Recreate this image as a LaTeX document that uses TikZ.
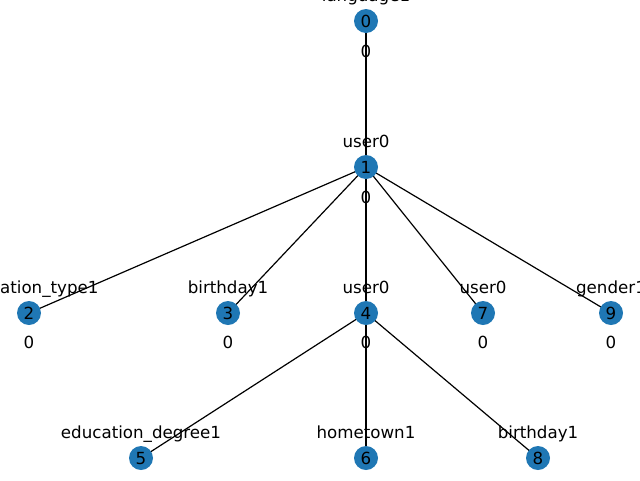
\documentclass[tikz,border=0pt]{standalone}
\usepackage{fontspec}
\setmainfont{DejaVu Sans}
\usetikzlibrary{backgrounds}
\definecolor{nodeblue}{HTML}{1F77B4}
\begin{document}
\begin{tikzpicture}[x=1pt,y=-1pt,
  vertex/.style={circle,fill=nodeblue,draw=none,minimum size=24pt,inner sep=0pt,
    font=\fontsize{16.67}{20}\selectfont,text depth=0pt},
  tag/.style={anchor=base,inner sep=0pt,font=\fontsize{16.67}{20}\selectfont},
  edge/.style={draw=black,line width=1.2pt}]
\useasboundingbox (0,0) rectangle (640,480);
\clip (0,0) rectangle (640,480);
% vertices
\node[vertex] (n0) at (366,21) {0};
\node[vertex] (n1) at (366,167) {1};
\node[vertex] (n2) at (29,313) {2};
\node[vertex] (n3) at (228,313) {3};
\node[vertex] (n4) at (366,313) {4};
\node[vertex] (n7) at (483,313) {7};
\node[vertex] (n9) at (611,313) {9};
\node[vertex] (n5) at (141,458) {5};
\node[vertex] (n6) at (366,458) {6};
\node[vertex] (n8) at (538,458) {8};
% edges, kept beneath the vertices
\begin{scope}[on background layer]
\foreach \a/\b in {n0/n1,n1/n2,n1/n3,n1/n4,n1/n7,n1/n9,n4/n5,n4/n6,n4/n8}
  \draw[edge] (\a.center) -- (\b.center);
\end{scope}
% names above the vertices
\node[tag] (l0) at (366,1.5) {language1};
\node[tag] (l1) at (366,147.5) {user0};
\node[tag] (l2) at (29,293.5) {education\_type1};
\node[tag] (l3) at (228,293.5) {birthday1};
\node[tag] (l4) at (366,293.5) {user0};
\node[tag] (l7) at (483,293.5) {user0};
\node[tag] (l9) at (611,293.5) {gender1};
\node[tag] (l5) at (141,438) {education\_degree1};
\node[tag] (l6) at (366,438) {hometown1};
\node[tag] (l8) at (538,438) {birthday1};
% values below the vertices
\node[tag] (v0) at (366,57) {0};
\node[tag] (v1) at (366,203) {0};
\node[tag] (v2) at (29,348.5) {0};
\node[tag] (v3) at (228,348.5) {0};
\node[tag] (v4) at (366,348.5) {0};
\node[tag] (v7) at (483,348.5) {0};
\node[tag] (v9) at (611,348.5) {0};
\end{tikzpicture}
\end{document}
